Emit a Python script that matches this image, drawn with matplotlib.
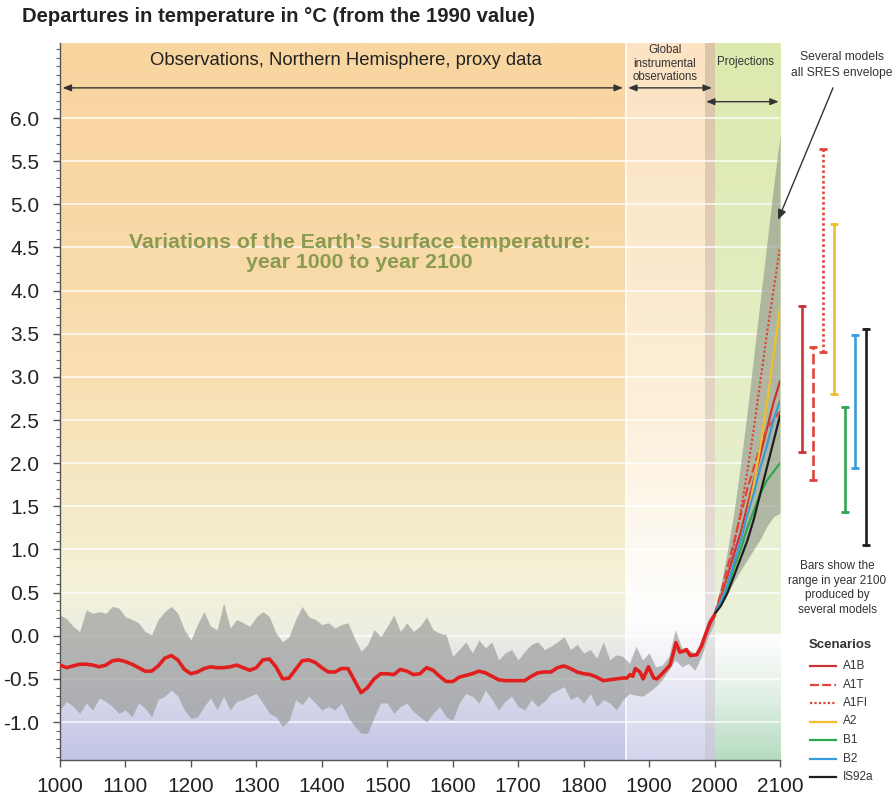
import numpy as np
import matplotlib
matplotlib.use('Agg')
import matplotlib.pyplot as plt
from matplotlib.colors import LinearSegmentedColormap
from matplotlib.lines import Line2D

plt.rcParams['font.family'] = ['Liberation Sans', 'DejaVu Sans']

# --- data ---
# smoothed proxy + instrumental record (red line)
red_years = [1000, 1010, 1020, 1030, 1040, 1050, 1060, 1070, 1080, 1090,
             1100, 1110, 1120, 1130, 1140, 1150, 1160, 1170, 1180, 1190,
             1200, 1210, 1220, 1230, 1240, 1250, 1260, 1270, 1280, 1290,
             1300, 1310, 1320, 1330, 1340, 1350, 1360, 1370, 1380, 1390,
             1400, 1410, 1420, 1430, 1440, 1450, 1460, 1470, 1480, 1490,
             1500, 1510, 1520, 1530, 1540, 1550, 1560, 1570, 1580, 1590,
             1600, 1610, 1620, 1630, 1640, 1650, 1660, 1670, 1680, 1690,
             1700, 1710, 1720, 1730, 1740, 1750, 1760, 1770, 1780, 1790,
             1800, 1810, 1820, 1830, 1840, 1850, 1860, 1866, 1871, 1875,
             1879, 1886, 1891, 1895, 1899, 1907, 1912, 1920, 1932, 1937,
             1941, 1947, 1952, 1957, 1963, 1973, 1980, 1986, 1993, 2000]
red_temps = [-0.34, -0.37, -0.35, -0.33, -0.33, -0.34, -0.36, -0.34, -0.29, -0.28,
             -0.30, -0.33, -0.37, -0.41, -0.41, -0.35, -0.26, -0.23, -0.28, -0.39,
             -0.44, -0.42, -0.38, -0.36, -0.37, -0.37, -0.36, -0.34, -0.37, -0.40,
             -0.37, -0.28, -0.27, -0.36, -0.50, -0.49, -0.39, -0.29, -0.28, -0.31,
             -0.37, -0.42, -0.42, -0.38, -0.38, -0.52, -0.66, -0.60, -0.50, -0.44,
             -0.44, -0.45, -0.39, -0.41, -0.45, -0.44, -0.37, -0.40, -0.47, -0.53,
             -0.53, -0.48, -0.46, -0.44, -0.41, -0.43, -0.47, -0.51, -0.52, -0.52,
             -0.52, -0.52, -0.47, -0.43, -0.42, -0.42, -0.37, -0.35, -0.38, -0.42,
             -0.44, -0.45, -0.48, -0.52, -0.51, -0.50, -0.49, -0.49, -0.45, -0.47,
             -0.38, -0.42, -0.50, -0.43, -0.36, -0.49, -0.50, -0.44, -0.34, -0.20,
             -0.08, -0.19, -0.18, -0.16, -0.23, -0.22, -0.12, 0.01, 0.15, 0.24]

# grey uncertainty band of the proxy data
band_years = [1000, 1010, 1020, 1030, 1040, 1050, 1060, 1070, 1080, 1090,
              1100, 1110, 1120, 1130, 1140, 1150, 1160, 1170, 1180, 1190,
              1200, 1210, 1220, 1230, 1240, 1250, 1260, 1270, 1280, 1290,
              1300, 1310, 1320, 1330, 1340, 1350, 1360, 1370, 1380, 1390,
              1400, 1410, 1420, 1430, 1440, 1450, 1460, 1470, 1480, 1490,
              1500, 1510, 1520, 1530, 1540, 1550, 1560, 1570, 1580, 1590,
              1600, 1610, 1620, 1630, 1640, 1650, 1660, 1670, 1680, 1690,
              1700, 1710, 1720, 1730, 1740, 1750, 1760, 1770, 1780, 1790,
              1800, 1810, 1820, 1830, 1840, 1850, 1860, 1870, 1880, 1890,
              1900, 1910, 1920, 1930, 1940, 1950, 1960, 1970, 1980, 1990, 2000]
band_upper = [0.24, 0.20, 0.11, 0.05, 0.30, 0.26, 0.28, 0.26, 0.34, 0.32,
              0.22, 0.19, 0.15, 0.05, 0.01, 0.19, 0.28, 0.34, 0.26, 0.07,
              -0.05, 0.13, 0.28, 0.11, 0.07, 0.38, 0.09, 0.19, 0.15, 0.11,
              0.22, 0.28, 0.22, 0.03, -0.07, -0.01, 0.19, 0.34, 0.22, 0.19,
              0.13, 0.15, 0.09, 0.13, 0.15, -0.03, -0.18, -0.10, 0.07, -0.01,
              0.11, 0.24, 0.05, 0.15, 0.05, 0.11, 0.22, 0.07, 0.03, 0.01,
              -0.24, -0.16, -0.07, -0.20, -0.05, -0.14, -0.07, -0.28, -0.20, -0.16,
              -0.28, -0.18, -0.10, -0.07, -0.16, -0.12, -0.07, -0.01, -0.16, -0.10,
              -0.20, -0.16, -0.26, -0.07, -0.28, -0.22, -0.24, -0.32, -0.12, -0.28,
              -0.20, -0.36, -0.34, -0.24, 0.07, -0.14, -0.16, -0.20, -0.05, 0.19, 0.28]
band_lower = [-0.86, -0.76, -0.82, -0.90, -0.78, -0.86, -0.72, -0.76, -0.82, -0.90,
              -0.86, -0.94, -0.78, -0.84, -0.94, -0.74, -0.70, -0.63, -0.70, -0.86,
              -0.96, -0.94, -0.82, -0.72, -0.86, -0.70, -0.86, -0.76, -0.74, -0.70,
              -0.67, -0.78, -0.90, -0.94, -1.05, -0.98, -0.74, -0.80, -0.70, -0.78,
              -0.86, -0.82, -0.86, -0.78, -0.94, -1.05, -1.13, -1.13, -0.94, -0.78,
              -0.78, -0.90, -0.82, -0.78, -0.88, -0.94, -1.00, -0.90, -0.82, -0.94,
              -0.98, -0.78, -0.67, -0.70, -0.78, -0.63, -0.74, -0.86, -0.76, -0.70,
              -0.82, -0.86, -0.74, -0.82, -0.76, -0.67, -0.63, -0.59, -0.74, -0.70,
              -0.78, -0.67, -0.82, -0.74, -0.78, -0.86, -0.74, -0.67, -0.69, -0.70,
              -0.65, -0.59, -0.51, -0.40, -0.28, -0.36, -0.32, -0.40, -0.24, -0.01, 0.15]

# projections 2000-2100
proj_years = [2000, 2010, 2020, 2030, 2040, 2050, 2060, 2070, 2080, 2090, 2100]
envelope_upper = [0.27, 0.60, 1.00, 1.45, 2.00, 2.60, 3.25, 3.90, 4.55, 5.20, 5.80]
envelope_lower = [0.27, 0.38, 0.50, 0.63, 0.76, 0.88, 1.00, 1.12, 1.27, 1.38, 1.42]

scenarios = ['A1B', 'A1T', 'A1FI', 'A2', 'B1', 'B2', 'IS92a']
scenario_curves = {
    'A1B':   [0.25, 0.45, 0.70, 0.95, 1.20, 1.50, 1.80, 2.10, 2.40, 2.70, 2.95],
    'A1T':   [0.25, 0.50, 0.80, 1.10, 1.40, 1.70, 1.95, 2.20, 2.40, 2.50, 2.60],
    'A1FI':  [0.25, 0.45, 0.70, 1.05, 1.45, 1.90, 2.40, 2.95, 3.50, 4.00, 4.50],
    'A2':    [0.25, 0.40, 0.60, 0.85, 1.10, 1.40, 1.75, 2.20, 2.70, 3.25, 3.80],
    'B1':    [0.25, 0.40, 0.55, 0.80, 1.00, 1.25, 1.45, 1.65, 1.80, 1.90, 2.00],
    'B2':    [0.25, 0.40, 0.60, 0.85, 1.10, 1.40, 1.65, 1.95, 2.20, 2.50, 2.72],
    'IS92a': [0.25, 0.35, 0.50, 0.70, 0.90, 1.10, 1.35, 1.65, 1.95, 2.25, 2.55],
}
# ranges in 2100 (bars at the right)
bar_low = [2.13, 1.81, 3.29, 2.80, 1.43, 1.95, 1.05]
bar_high = [3.82, 3.35, 5.64, 4.77, 2.65, 3.48, 3.56]

scen_colors = ['#c93535', '#e0453c', '#e0453c', '#f0be2e', '#2ea84f', '#3a9bdc', '#1e1e1e']
scen_styles = ['-', (0, (4, 1.5)), (0, (1, 1)), '-', '-', '-', '-']

YMIN, YMAX = -1.44, 6.87


def gradient(ax, x0, x1, stops):
    cm = LinearSegmentedColormap.from_list(
        'g', [((v - YMIN) / (YMAX - YMIN), c) for v, c in stops])
    ax.imshow(np.linspace(0, 1, 500).reshape(-1, 1), cmap=cm, origin='lower',
              extent=(x0, x1, YMIN, YMAX), aspect='auto', zorder=0,
              interpolation='bilinear')


fig = plt.figure(figsize=(8.96, 7.96), dpi=100)
ax = fig.add_axes([60 / 896, 36 / 796, 720 / 896, 717 / 796])

# backgrounds
gradient(ax, 1000, 1865, [(YMIN, '#c3c5e6'), (-0.8, '#d4d6ea'), (0.0, '#edeee3'),
                          (0.6, '#f4f2d8'), (1.5, '#f5eac6'), (3.0, '#f8dfb2'),
                          (5.0, '#f9d8a5'), (YMAX, '#f9d5a0')])
gradient(ax, 1865, 1985, [(YMIN, '#d3d5ee'), (-0.5, '#ebebf5'), (0.2, '#ffffff'),
                          (1.0, '#fefaf2'), (3.0, '#fcedd5'), (YMAX, '#fbe3c3')])
gradient(ax, 1985, 2000, [(YMIN, '#c9cad8'), (0.0, '#e5e3e3'), (2.0, '#e4d8c8'),
                          (YMAX, '#dbc5a7')])
gradient(ax, 2000, 2100, [(YMIN, '#b6dcc1'), (-0.7, '#e2f0e6'), (-0.01, '#ffffff'),
                          (0.01, '#eaf2da'), (2.0, '#e6efcb'), (YMAX, '#dce9ae')])

for g in np.arange(-1.0, 6.01, 0.5):
    ax.axhline(g, color='white', lw=1.2, alpha=0.85, zorder=1)
ax.axvline(1865, color='white', lw=1.2, alpha=0.9, zorder=1)

# proxy band and envelope
ax.fill_between(band_years, band_lower, band_upper, color='#9a9c9a', alpha=0.68,
                lw=0, zorder=2)
ax.fill_between(proj_years, envelope_lower, envelope_upper, color='#8f968a',
                alpha=0.62, lw=0, zorder=2)

ax.plot(red_years, red_temps, color='#e21f1f', lw=2.6, zorder=4,
        solid_capstyle='round', solid_joinstyle='round')

for name, c, ls in zip(scenarios, scen_colors, scen_styles):
    ax.plot(proj_years, scenario_curves[name], color=c, ls=ls, lw=1.6, zorder=3)

# range bars beyond 2100
bar_x = 2134 + 16.2 * np.arange(len(scenarios))
for x, lo, hi, c, ls in zip(bar_x, bar_low, bar_high, scen_colors, scen_styles):
    ax.plot([x, x], [lo, hi], color=c, ls=ls, lw=1.9, clip_on=False, zorder=5)
    ax.plot([x, x], [lo, hi], ls='none', marker='_', ms=6, mew=2,
            color=c, clip_on=False, zorder=5)

ax.set_xlim(1000, 2100)
ax.set_ylim(YMIN, YMAX)

# axes styling
for s in ['top', 'right']:
    ax.spines[s].set_visible(False)
for s in ['left', 'bottom']:
    ax.spines[s].set_color('#555555')
    ax.spines[s].set_linewidth(1.0)
ax.set_xticks(np.arange(1000, 2101, 100))
ax.set_yticks(np.arange(-1.0, 6.01, 0.5))
ax.set_yticks(np.arange(-1.4, 6.81, 0.1), minor=True)
ax.set_yticklabels(['%.1f' % v for v in np.arange(-1.0, 6.01, 0.5)])
ax.tick_params(axis='both', which='major', labelsize=15, length=5, width=1,
               color='#555555', labelcolor='#222222', direction='out')
ax.tick_params(axis='x', pad=7)
ax.tick_params(axis='y', which='minor', length=3, width=0.8, color='#666666')
ax.tick_params(axis='y', pad=10)

# headers inside the plot
ax.text(1436, 6.67, 'Observations, Northern Hemisphere, proxy data',
        ha='center', va='center', fontsize=13.3, color='#222222')
ax.text(1924, 6.63, 'Global\ninstrumental\nobservations', ha='center',
        va='center', fontsize=8.3, color='#333333', linespacing=1.15)
ax.text(2048, 6.65, 'Projections', ha='center', va='center', fontsize=8.3,
        color='#333333')
arrow = dict(arrowstyle='<|-|>,head_length=0.5,head_width=0.2', color='#333333',
             lw=1.0, shrinkA=0, shrinkB=0)
ax.annotate('', xy=(1860, 6.35), xytext=(1004, 6.35), arrowprops=arrow)
ax.annotate('', xy=(1996, 6.35), xytext=(1868, 6.35), arrowprops=arrow)
ax.annotate('', xy=(2098, 6.19), xytext=(1987, 6.19), arrowprops=arrow)

ax.text(1458, 4.44, 'Variations of the Earth\u2019s surface temperature:\nyear 1000 to year 2100',
        ha='center', va='center', fontsize=15.3, fontweight='bold',
        color='#8a9a4e', linespacing=1.1)

# annotations at the right
fig.text(842 / 896, 1 - 65 / 796, 'Several models\nall SRES envelope',
         ha='center', va='center', fontsize=8.7, color='#333333', linespacing=1.45)
ax.annotate('', xy=(2097, 4.82), xytext=(2181, 6.35), annotation_clip=False,
            arrowprops=dict(arrowstyle='-|>,head_length=0.6,head_width=0.25',
                            color='#333333', lw=1.0, shrinkA=0, shrinkB=0))
fig.text(837 / 896, 1 - 588 / 796, 'Bars show the\nrange in year 2100\nproduced by\nseveral models',
         ha='center', va='center', fontsize=8.5, color='#333333', linespacing=1.3)

# legend
fig.text(840 / 896, 1 - 645 / 796, 'Scenarios', ha='center', va='center',
         fontsize=9.5, fontweight='bold', color='#333333')
for i, (name, c, ls) in enumerate(zip(scenarios, scen_colors, scen_styles)):
    yy = 1 - (666 + 18.5 * i) / 796
    fig.add_artist(Line2D([810 / 896, 836 / 896], [yy, yy], color=c, ls=ls, lw=1.6))
    fig.text(843 / 896, yy, name, ha='left', va='center', fontsize=8.5,
             color='#333333')

fig.text(22 / 896, 1 - 17 / 796, 'Departures in temperature in \u00b0C (from the 1990 value)',
         ha='left', va='center', fontsize=14.6, fontweight='bold', color='#222222')

fig.savefig('out.png', dpi=100)
